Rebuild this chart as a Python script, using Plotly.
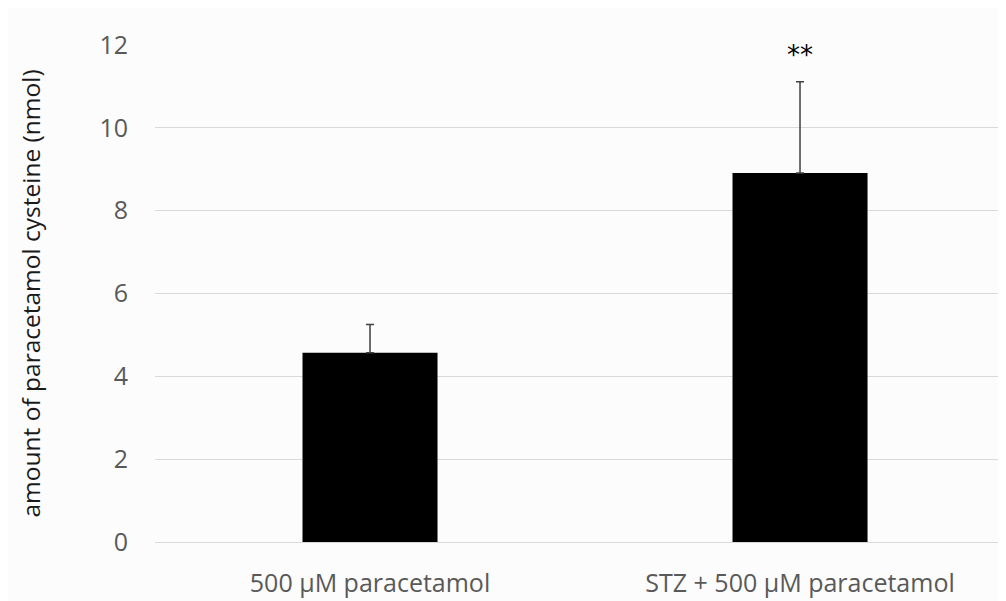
import plotly.graph_objects as go

categories = ["500 µM paracetamol", "STZ + 500 µM paracetamol"]
values = [4.57, 8.91]
errors = [0.68, 2.2]
y_ticks = [0, 2, 4, 6, 8, 10, 12]
y_title = "amount of paracetamol cysteine (nmol)"
sig_label = "**"
sig_y = 11.75

fig = go.Figure()
fig.add_trace(go.Bar(
    x=categories, y=values,
    width=0.314,
    marker=dict(color="#000000", line=dict(width=0)),
    error_y=dict(type="data", array=errors, symmetric=False, arrayminus=[0, 0],
                 color="#404040", thickness=1.5, width=4),
))
fig.add_annotation(x=categories[1], y=sig_y, text=sig_label, showarrow=False,
                   font=dict(size=26, color="#000000", family="DejaVu Sans"))
fig.add_annotation(xref="paper", yref="paper", x=(22 - 147) / 851, y=0.5,
                   text=y_title, textangle=-90, showarrow=False,
                   xanchor="center", yanchor="middle",
                   font=dict(size=24.5, color="#1a1a1a", family="Open Sans"))

fig.update_layout(
    width=1006, height=601,
    margin=dict(l=147, r=8, t=37, b=67),
    paper_bgcolor="#fcfcfc", plot_bgcolor="#fcfcfc",
    showlegend=False,
    font=dict(family="Open Sans", color="#595959", size=24),
    xaxis=dict(range=[-0.5, 1.479], showline=False, ticks="", showgrid=False,
               automargin=False, ticklabelstandoff=24,
               tickfont=dict(size=25, color="#595959")),
    yaxis=dict(range=[0, 12], tickvals=y_ticks, showgrid=True, gridcolor="#d9d9d9",
               gridwidth=1, zeroline=True, zerolinecolor="#d9d9d9", zerolinewidth=1,
               ticks="", automargin=False, ticklabelstandoff=26,
               tickfont=dict(size=25, color="#595959")),
)
fig.write_html("out.html")
